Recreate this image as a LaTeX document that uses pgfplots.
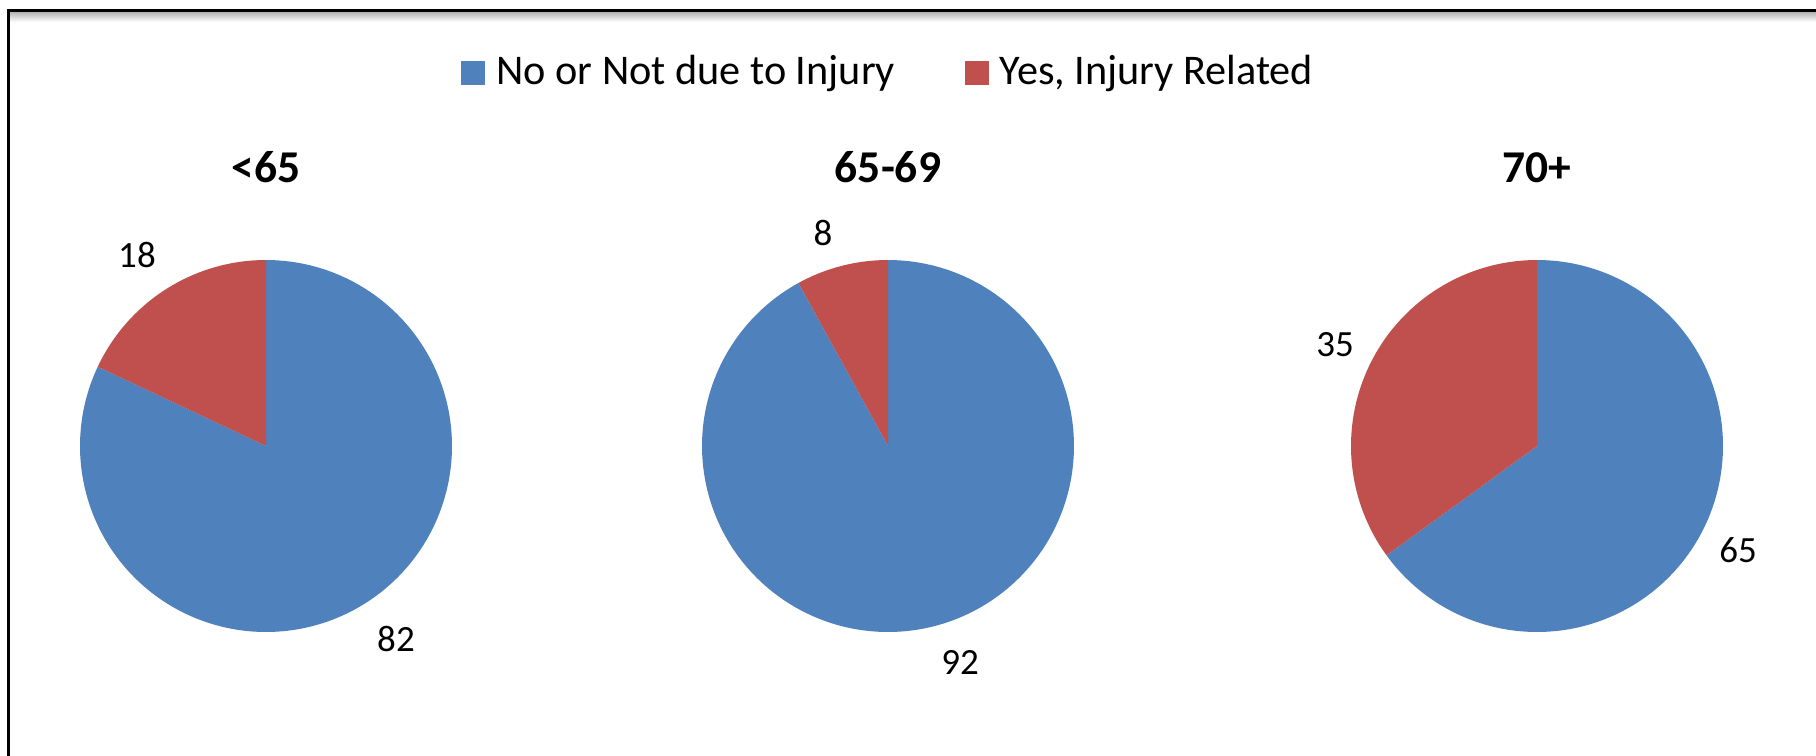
\documentclass[border=0pt]{standalone}
\usepackage{pgfplots}
\pgfplotsset{compat=1.18}
\usepackage{fontspec}
\setmainfont{Carlito}
\definecolor{pieblue}{HTML}{4F81BD}
\definecolor{piered}{HTML}{C0504D}
\begin{document}
\begin{tikzpicture}
\begin{axis}[
  width=726.4pt, height=302.4pt, scale only axis,
  xmin=0, xmax=1816, ymin=0, ymax=756, y dir=reverse,
  hide axis, clip=false,
]
% frame
\shade[top color=black!30, bottom color=white, draw=none] (axis cs:9,12) rectangle (axis cs:1816,22);
\draw[line width=1.2pt, black] (axis cs:8,756) -- (axis cs:8,10.5) -- (axis cs:1816,10.5);

% pie 1: <65  (82 / 18)
\addplot[fill=pieblue, draw=none, domain={90-3.6*82}:90, samples=200, variable=\t]
  ({266+186*cos(t)},{446-186*sin(t)}) -- (axis cs:266,446) -- cycle;
\addplot[fill=piered, draw=none, domain=90:{90+3.6*18}, samples=80, variable=\t]
  ({266+186*cos(t)},{446-186*sin(t)}) -- (axis cs:266,446) -- cycle;

% pie 2: 65-69  (92 / 8)
\addplot[fill=pieblue, draw=none, domain={90-3.6*92}:90, samples=200, variable=\t]
  ({888+186*cos(t)},{446-186*sin(t)}) -- (axis cs:888,446) -- cycle;
\addplot[fill=piered, draw=none, domain=90:{90+3.6*8}, samples=50, variable=\t]
  ({888+186*cos(t)},{446-186*sin(t)}) -- (axis cs:888,446) -- cycle;

% pie 3: 70+  (65 / 35)
\addplot[fill=pieblue, draw=none, domain={90-3.6*65}:90, samples=200, variable=\t]
  ({1537+186*cos(t)},{446-186*sin(t)}) -- (axis cs:1537,446) -- cycle;
\addplot[fill=piered, draw=none, domain=90:{90+3.6*35}, samples=120, variable=\t]
  ({1537+186*cos(t)},{446-186*sin(t)}) -- (axis cs:1537,446) -- cycle;

% titles
\node[font=\fontsize{18.2}{21}\selectfont\bfseries, anchor=base] at (axis cs:266,182.7) {<65};
\node[font=\fontsize{18.2}{21}\selectfont\bfseries, anchor=base] at (axis cs:888,182.7) {65-69};
\node[font=\fontsize{18.2}{21}\selectfont\bfseries, anchor=base] at (axis cs:1537,182.7) {70+};

% data labels
\node[font=\fontsize{14.8}{17}\selectfont] at (axis cs:137,255) {18};
\node[font=\fontsize{14.8}{17}\selectfont] at (axis cs:396,639) {82};
\node[font=\fontsize{14.8}{17}\selectfont] at (axis cs:823,233) {8};
\node[font=\fontsize{14.8}{17}\selectfont] at (axis cs:960,662) {92};
\node[font=\fontsize{14.8}{17}\selectfont] at (axis cs:1335,345) {35};
\node[font=\fontsize{14.8}{17}\selectfont] at (axis cs:1738,550) {65};

% legend
\fill[pieblue] (axis cs:461,61) rectangle (axis cs:485,84.5);
\node[anchor=base west, inner sep=0pt, font=\fontsize{16.9}{19}\selectfont] at (axis cs:496,84.3) {No or Not due to Injury};
\fill[piered] (axis cs:965,61) rectangle (axis cs:989,84.5);
\node[anchor=base west, inner sep=0pt, font=\fontsize{16.9}{19}\selectfont] at (axis cs:999,84.3) {Yes, Injury Related};
\end{axis}
\pgfresetboundingbox
\path (0,0) rectangle (726.4pt,302.4pt);
\end{tikzpicture}
\end{document}
